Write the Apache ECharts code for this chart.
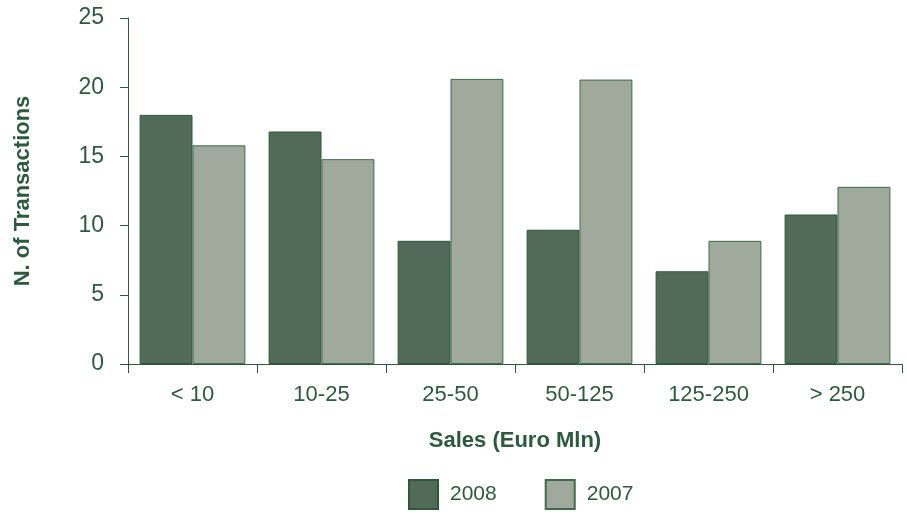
<!DOCTYPE html>
<html>
<head>
<meta charset="utf-8">
<script src="https://cdn.jsdelivr.net/npm/echarts@6/dist/echarts.min.js"></script>
<style>
  html, body { margin: 0; padding: 0; background: #ffffff; }
  #chart { width: 907px; height: 514px; }
</style>
</head>
<body>
<div id="chart"></div>
<script>
// Transactions by company sales band (Euro Mln)
const categories = ['< 10', '10-25', '25-50', '50-125', '125-250', '> 250'];
const series2008 = [18.0, 16.8, 8.9, 9.7, 6.7, 10.8];
const series2007 = [15.8, 14.8, 20.6, 20.55, 8.9, 12.8];
const yTicks = [0, 5, 10, 15, 20, 25];

const ink = '#2c5a3d';
const font = 'Liberation Sans, Arial, Helvetica, sans-serif';

const chart = echarts.init(document.getElementById('chart'), null, { renderer: 'canvas' });
chart.setOption({
  animation: false,
  backgroundColor: '#ffffff',
  textStyle: { fontFamily: font, color: ink },
  grid: { left: 128, right: 5, top: 18, bottom: 150, containLabel: false, outerBoundsMode: 'none' },
  legend: {
    bottom: 4,
    left: 408,
    padding: 0,
    itemWidth: 29,
    itemHeight: 29,
    itemGap: 48,
    icon: 'rect',
    textStyle: { fontFamily: font, fontSize: 21, color: ink, padding: [0, 0, 0, 7] },
    data: ['2008', '2007']
  },
  xAxis: {
    type: 'category',
    data: categories,
    name: 'Sales (Euro Mln)',
    nameLocation: 'middle',
    nameGap: 66,
    nameTextStyle: { fontFamily: font, fontSize: 22, fontWeight: 'bold', color: ink },
    axisLine: { show: true, lineStyle: { color: ink, width: 1 } },
    axisTick: { show: true, length: 9, alignWithLabel: false, lineStyle: { color: ink } },
    axisLabel: { fontFamily: font, fontSize: 22, color: ink, margin: 20 },
    splitLine: { show: false }
  },
  yAxis: {
    type: 'value',
    min: yTicks[0],
    max: yTicks[yTicks.length - 1],
    interval: 5,
    name: 'N. of Transactions',
    nameLocation: 'middle',
    nameGap: 94,
    nameTextStyle: { fontFamily: font, fontSize: 22, fontWeight: 'bold', color: ink },
    axisLine: { show: true, lineStyle: { color: ink, width: 1 } },
    axisTick: { show: true, inside: false, length: 8, lineStyle: { color: ink } },
    axisLabel: { fontFamily: font, fontSize: 23, color: ink, margin: 24 },
    splitLine: { show: false }
  },
  series: [
    {
      name: '2008',
      type: 'bar',
      data: series2008,
      barGap: '0%',
      barCategoryGap: '18%',
      itemStyle: { color: '#526a58', borderColor: '#2f573b', borderWidth: 1 }
    },
    {
      name: '2007',
      type: 'bar',
      data: series2007,
      itemStyle: { color: '#9faa9c', borderColor: '#3f6a4c', borderWidth: 1 }
    }
  ]
});
</script>
</body>
</html>
